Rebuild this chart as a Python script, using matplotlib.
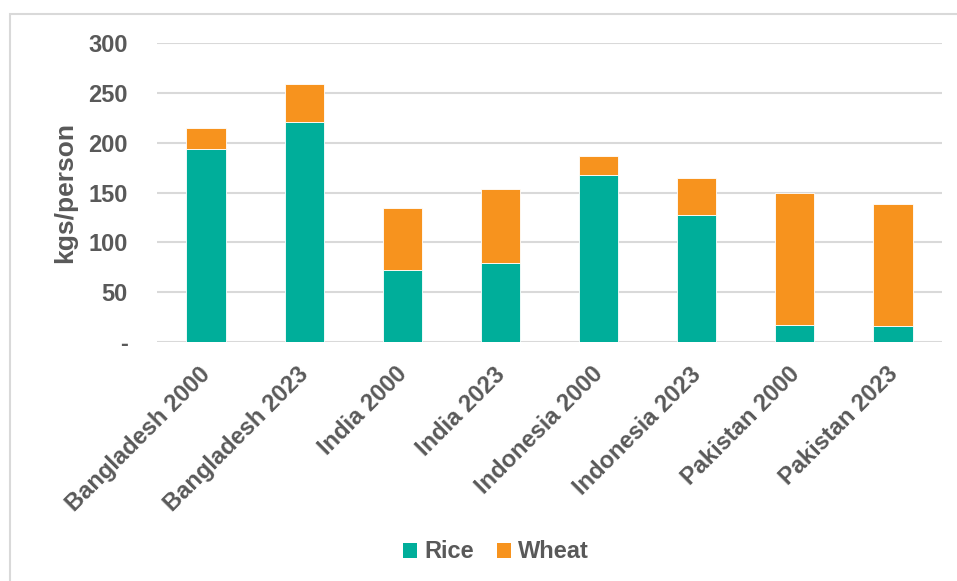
import matplotlib
matplotlib.use("Agg")
import matplotlib.pyplot as plt
from matplotlib.patches import Rectangle, Patch
from matplotlib.transforms import ScaledTranslation

categories = ["Bangladesh 2000", "Bangladesh 2023", "India 2000", "India 2023",
              "Indonesia 2000", "Indonesia 2023", "Pakistan 2000", "Pakistan 2023"]
rice = [193.5, 220.5, 72, 79, 167.5, 127, 16.5, 15.5]
wheat = [21.5, 39, 62.5, 75, 19.5, 38, 133, 123]
yticks = [0, 50, 100, 150, 200, 250, 300]
ytick_labels = ["-", "50", "100", "150", "200", "250", "300"]

RICE_C = "#00AE9A"
WHEAT_C = "#F7931E"
TEXT_C = "#595959"
GRID_C = "#D9D9D9"

plt.rcParams['font.family'] = ['Liberation Sans', 'DejaVu Sans']

fig = plt.figure(figsize=(9.57, 5.81), dpi=100)
ax = fig.add_axes([157/957, 1-341.7/581, (942-157)/957, (341.7-43.3)/581])

x = list(range(len(categories)))
ax.bar(x, rice, width=0.4, color=RICE_C, edgecolor="white", linewidth=0.6, zorder=3, label="Rice")
ax.bar(x, wheat, width=0.4, bottom=rice, color=WHEAT_C, edgecolor="white", linewidth=0.6, zorder=3, label="Wheat")

ax.set_xlim(-0.5, len(categories) - 0.5)
ax.set_ylim(0, 300)
ax.set_yticks(yticks)
ax.set_yticklabels(ytick_labels, fontsize=17, fontweight="bold", color=TEXT_C)
ax.set_xticks(x)
ax.set_xticklabels(categories, fontsize=17, fontweight="bold", color=TEXT_C,
                   rotation=45, ha="right", rotation_mode="anchor")
ax.tick_params(axis="both", length=0)
ax.tick_params(axis="y", pad=21)
ax.tick_params(axis="x", pad=10)
for s in ax.spines.values():
    s.set_visible(False)
ax.yaxis.grid(True, color=GRID_C, linewidth=1.5, zorder=0)
ax.set_axisbelow(True)
ax.set_ylabel("kgs/person", fontsize=19, fontweight="bold", color=TEXT_C, labelpad=8)

handles = [Patch(facecolor=RICE_C, label="Rice"), Patch(facecolor=WHEAT_C, label="Wheat")]
fig.legend(handles=handles, loc="center", bbox_to_anchor=(496/957, 1-552/581), ncol=2,
           frameon=False, handlelength=0.6, handleheight=0.6, handletextpad=0.3,
           columnspacing=1.0, prop={"size": 17, "weight": "bold"}, labelcolor=TEXT_C)

fig.patches.append(Rectangle((10/957, -0.1), 1.2, 1 - 13.5/581 + 0.1, transform=fig.transFigure,
                             facecolor="none", edgecolor=GRID_C, linewidth=1.5, zorder=0))

offset = ScaledTranslation(-7/100, -7/100, fig.dpi_scale_trans)
for tick in ax.xaxis.get_major_ticks():
    tick.label1.set_transform(tick.label1.get_transform() + offset)

fig.savefig("out.png", dpi=100)
